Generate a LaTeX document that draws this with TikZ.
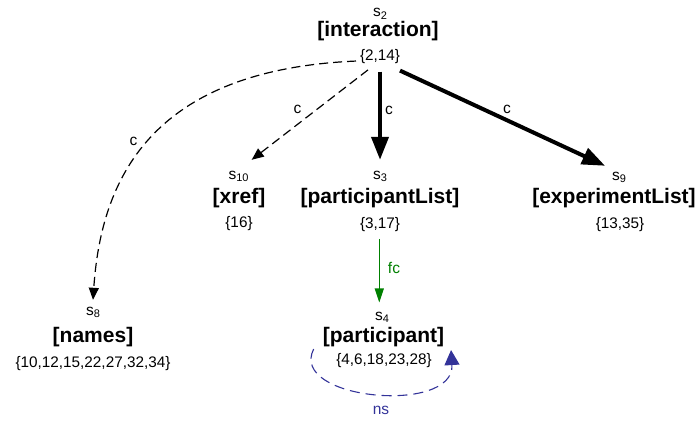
\documentclass[tikz,border=0pt]{standalone}
\usepackage{fontspec}
\setmainfont{Liberation Sans}
\usetikzlibrary{arrows.meta}
\definecolor{fcgreen}{RGB}{0,128,0}
\definecolor{nsblue}{RGB}{51,51,153}
\newcommand\stlab[1]{s\raisebox{-2.5pt}{\fontsize{11}{11}\selectfont #1}}
\begin{document}
\begin{tikzpicture}[x=1pt,y=-1pt,
  every node/.style={inner sep=0pt,outer sep=0pt},
  slabel/.style={anchor=base,font=\fontsize{15.5}{16}\selectfont},
  sname/.style={anchor=base,font=\fontsize{21}{22}\selectfont\bfseries},
  sset/.style={anchor=base,font=\fontsize{15.3}{16}\selectfont},
  elab/.style={font=\fontsize{15.5}{16}\selectfont},
  dashc/.style={line width=1.2pt,dash pattern=on 9pt off 5pt,-{Triangle[length=12pt,width=10pt]}},
  thickc/.style={line width=4pt,-{Triangle[length=23pt,width=17pt]}},
  fcarrow/.style={fcgreen,line width=1.2pt,-{Triangle[length=14pt,width=9pt]}},
  nsarrow/.style={nsblue,line width=1.1pt,dash pattern=on 10pt off 6pt,-{Triangle[length=15pt,width=15pt]}}]
\useasboundingbox (0,0) rectangle (700,421);
% state s2
\node[slabel] (s2lab) at (380,16.7) {\stlab{2}};
\node[sname] (s2name) at (378,36.7) {[interaction]};
\node[sset] (s2set) at (380,60) {\{2,14\}};
% state s10
\node[slabel] (s10lab) at (238.5,179.3) {\stlab{10}};
\node[sname] (s10name) at (239,203.3) {[xref]};
\node[sset] (s10set) at (239,227.5) {\{16\}};
% state s3
\node[slabel] (s3lab) at (380,179.3) {\stlab{3}};
\node[sname] (s3name) at (380,203.3) {[participantList]};
\node[sset] (s3set) at (380,228) {\{3,17\}};
% state s9
\node[slabel] (s9lab) at (619,180) {\stlab{9}};
\node[sname] (s9name) at (614,203.5) {[experimentList]};
\node[sset] (s9set) at (620,228) {\{13,35\}};
% state s8
\node[slabel] (s8lab) at (93,315) {\stlab{8}};
\node[sname] (s8name) at (93,342.5) {[names]};
\node[sset] (s8set) at (93,367.5) {\{10,12,15,22,27,32,34\}};
% state s4
\node[slabel] (s4lab) at (382,320) {\stlab{4}};
\node[sname] (s4name) at (383.5,342) {[participant]};
\node[sset] (s4set) at (384,364) {\{4,6,18,23,28\}};
% connectors
\draw[dashc] ([xshift=-12pt,yshift=-6.7pt]s2set.south) -- ([xshift=13.2pt,yshift=11.2pt]s10lab.north);
\draw[dashc] ([xshift=-4pt,yshift=-5pt]s2set.west) .. controls (150,70) and (101,180) .. ([yshift=6.9pt]s8lab.north);
\draw[thickc] ([yshift=-8.4pt]s2set.south) -- ([yshift=11.2pt]s3lab.north);
\draw[thickc] ([yshift=-7.4pt]s2set.south east) -- ([xshift=-7pt,yshift=5.9pt]s9lab.north west);
\draw[fcarrow] ([xshift=-0.7pt,yshift=-7.7pt]s3set.south) -- ([xshift=-2.7pt,yshift=9.2pt]s4lab.north);
\draw[nsarrow] ([xshift=-22.7pt,yshift=11pt]s4set.west) .. controls (288,400) and (455,415) .. ([xshift=19.4pt,yshift=10pt]s4set.east);
% labels
\node[elab] (c1) at (297.5,109) {c};
\node[elab] (c2) at (133.5,141) {c};
\node[elab] (c3) at (389,110) {c};
\node[elab] (c4) at (507,109.3) {c};
\node[elab,text=fcgreen] (fc) at (394,268) {fc};
\node[elab,text=nsblue] (ns) at (381,410) {ns};
\end{tikzpicture}
\end{document}
